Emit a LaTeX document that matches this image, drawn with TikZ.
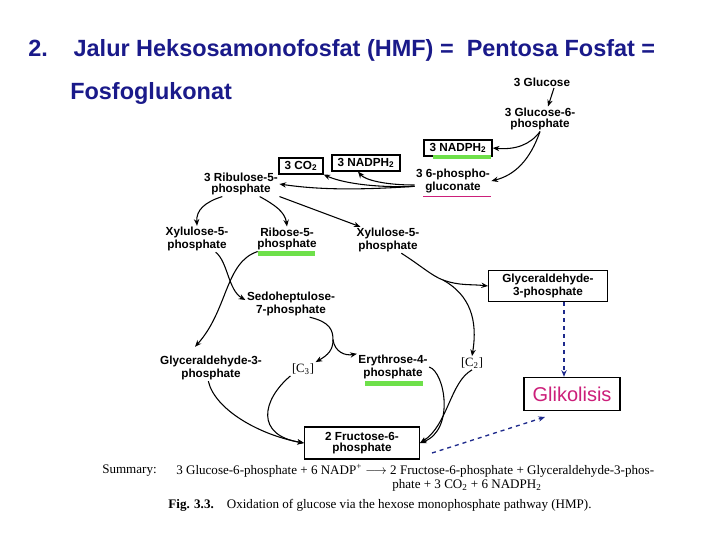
\documentclass[tikz,border=0pt]{standalone}
\usepackage{fontspec}
\setmainfont{Liberation Serif}
\setsansfont{Liberation Sans}
\usepackage{tikz}
\usetikzlibrary{arrows.meta}
\definecolor{biruTua}{HTML}{1A1A8A}
\definecolor{garisBiru}{HTML}{1E2A8C}
\definecolor{hijau}{HTML}{6EE04A}
\definecolor{merahMuda}{HTML}{CC1F7A}

\begin{document}
\begin{tikzpicture}[x=0.75pt,y=-0.75pt,>={Stealth[length=5pt,width=4pt]},
  judul/.style={font=\sffamily\bfseries\fontsize{17.6}{19}\selectfont,text=biruTua,inner sep=0pt},
  lbl/.style={font=\sffamily\bfseries\fontsize{8.8}{8.2}\selectfont,align=center,inner sep=1pt},
  kotak/.style={lbl,draw,line width=1pt},
  tebal/.style={lbl,draw,line width=1.5pt,inner xsep=4pt,inner ysep=2pt},
  kurung/.style={font=\fontsize{9.5}{10}\selectfont,inner sep=1pt},
  ringkas/.style={font=\fontsize{9.8}{11}\selectfont,inner sep=0pt},
  panah/.style={->,line width=0.8pt},
  putus/.style={->,dashed,garisBiru,line width=1pt}]
\fill[white] (0,0) rectangle (720,540);
\useasboundingbox (0,0) rectangle (720,540);
% judul
\node[judul,anchor=west] (judul1) at (28,50) {2.\hspace{1.1em}Jalur Heksosamonofosfat (HMF) = \ Pentosa Fosfat =};
\node[judul,anchor=west] (judul2) at (70,93) {Fosfoglukonat};
% senyawa
\node[lbl] (glu) at (542,82) {3 Glucose};
\node[lbl] (g6p) at (540,119) {3 Glucose-6-\\phosphate};
\node[tebal] (nadph1) at (458,148) {3 NADPH\textsubscript{2}};
\node[lbl] (pg) at (453,181) {3 6-phospho-\\gluconate};
\node[tebal] (co2) at (301,166) {3 CO\textsubscript{2}};
\node[tebal] (nadph2) at (366,163) {3 NADPH\textsubscript{2}};
\node[lbl] (ru5p) at (241,184) {3 Ribulose-5-\\phosphate};
\node[lbl] (xu5pA) at (197,239) {Xylulose-5-\\phosphate};
\node[lbl] (r5p) at (287,239) {Ribose-5-\\phosphate};
\node[lbl] (xu5pB) at (388,240) {Xylulose-5-\\phosphate};
\node[kotak,minimum width=89pt,minimum height=23pt] (gap) at (548,286) {Glyceraldehyde-\\3-phosphate};
\node[lbl] (s7p) at (291,304) {Sedoheptulose-\\7-phosphate};
\node[lbl] (gapA) at (211,368) {Glyceraldehyde-3-\\phosphate};
\node[kurung] (c3) at (303,369) {[C\textsubscript{3}]};
\node[lbl] (e4p) at (393,367) {Erythrose-4-\\phosphate};
\node[kurung] (c2) at (472,363) {[C\textsubscript{2}]};
\node[draw,line width=0.8pt,minimum width=72pt,minimum height=25pt,text=merahMuda,
  font=\sffamily\fontsize{15}{17}\selectfont] (glik) at (572,394) {Glikolisis};
\node[kotak,minimum width=86pt,minimum height=24pt] (fru) at (362,443) {2 Fructose-6-\\phosphate};
% garis warna
\fill[hijau] (433,155) rectangle (491,159);
\fill[hijau] (258,251) rectangle (315,256);
\fill[hijau] (365,381) rectangle (423,386);
\draw[merahMuda,line width=0.7pt] (423,196) -- (491,196);
% titik cabang
\coordinate (pisah2) at (333,340);
\coordinate (pisah3) at (443,280);
\coordinate (ujung) at (545,417);
% panah
\draw[panah] ([xshift=9pt]glu.south) -- ([xshift=6pt]g6p.north);
\draw[panah] (g6p.south) .. controls (530,145) and (515,150) .. (nadph1.east);
\draw[panah] (g6p.south) .. controls (530,160) and (515,175) .. (pg.east);
\draw[panah] ([yshift=-4pt]pg.west) .. controls (360,190) and (320,190) .. (ru5p.east);
\draw[panah] ([yshift=-4pt]pg.west) .. controls (370,188) and (340,182) .. (co2.south east);
\draw[panah] ([yshift=-3pt]pg.west) .. controls (385,185) and (365,180) .. ([xshift=-6pt]nadph2.south);
\draw[panah] ([xshift=-14pt]ru5p.south) .. controls (205,202) and (196,210) .. (xu5pA.north);
\draw[panah] ([xshift=14pt]ru5p.south) .. controls (275,205) and (285,212) .. (r5p.north);
\draw[panah] (ru5p.south east) -- ([xshift=4pt]xu5pB.north west);
\draw[panah] ([xshift=14pt]xu5pA.south) .. controls (228,262) and (228,290) .. ([yshift=3pt]s7p.west);
\draw[panah] ([xshift=-22pt]r5p.south) .. controls (225,262) and (228,310) .. ([xshift=-12pt,yshift=6pt]gapA.north);
\draw[line width=0.8pt] ([xshift=14pt]s7p.south) .. controls (330,322) and (333,330) .. (pisah2);
\draw[panah] (pisah2) .. controls (333,350) and (328,355) .. (c3.north east);
\draw[panah] (pisah2) .. controls (335,352) and (345,356) .. (e4p.north west);
\draw[line width=0.8pt] ([xshift=10pt]xu5pB.south) .. controls (420,265) and (432,276) .. (pisah3);
\draw[panah] (pisah3) .. controls (460,286) and (470,284) .. (gap.west);
\draw[panah] (pisah3) .. controls (470,295) and (478,320) .. (c2.north);
\draw[panah] ([xshift=-2pt]gapA.south) .. controls (215,410) and (260,435) .. (fru.west);
\draw[panah] (c3.south west) .. controls (262,400) and (255,435) .. (fru.west);
\draw[panah] (e4p.east) .. controls (445,372) and (455,430) .. (fru.east);
\draw[panah] (c2.south) .. controls (450,382) and (448,425) .. (fru.east);
% ke glikolisis
\draw[putus] ([xshift=12pt]gap.south) -- ([xshift=12pt]gap.south |- glik.north);
\draw[putus] ([shift={(9pt,-7.5pt)}]fru.east) -- (ujung);
% ringkasan
\node[ringkas,anchor=west] (sum) at (102,471) {Summary:};
\node[ringkas,anchor=west] (sum1) at (176,471) {3 Glucose-6-phosphate + 6 NADP\textsuperscript{+} $\longrightarrow$ 2 Fructose-6-phosphate + Glyceraldehyde-3-phos-};
\node[ringkas,anchor=west] (sum2) at (392,485) {phate + 3 CO\textsubscript{2} + 6 NADPH\textsubscript{2}};
\node[ringkas] (cap) at (380,505) {\textbf{Fig. 3.3.}\quad Oxidation of glucose via the hexose monophosphate pathway (HMP).};
\end{tikzpicture}
\end{document}
